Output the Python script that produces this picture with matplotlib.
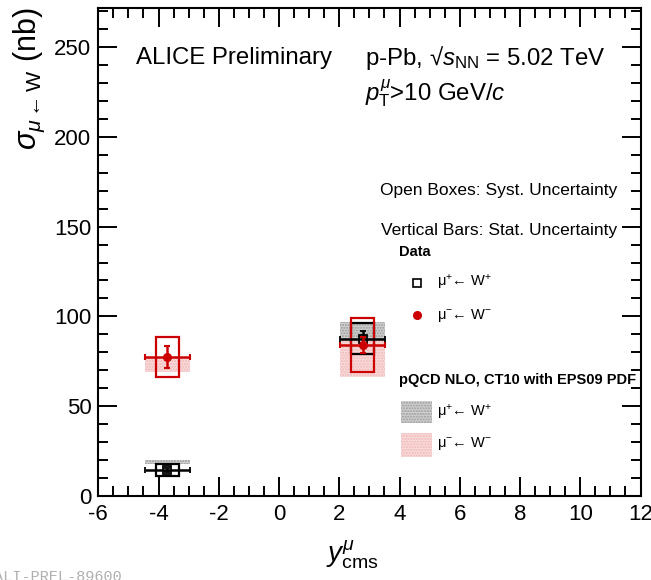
import numpy as np
import matplotlib
matplotlib.use("Agg")
import matplotlib.pyplot as plt
from matplotlib.patches import Rectangle
from matplotlib.ticker import MultipleLocator

plt.rcParams["font.family"] = ["Liberation Sans", "DejaVu Sans"]
plt.rcParams["mathtext.fontset"] = "custom"
plt.rcParams["mathtext.rm"] = "Liberation Sans"
plt.rcParams["mathtext.it"] = "Liberation Sans:italic"
plt.rcParams["mathtext.bf"] = "Liberation Sans:bold"
plt.rcParams["axes.unicode_minus"] = False

# rapidity bins (backward, forward)
y_cms = [-3.71, 2.78]
y_halfwidth = [0.75, 0.75]

# mu+ <- W+
wplus_val = [14.5, 87.6]
wplus_stat = [1.0, 4.5]
wplus_syst = [3.1, 8.5]
# mu- <- W-
wminus_val = [77.4, 84.1]
wminus_stat = [6.0, 4.3]
wminus_syst = [10.9, 15.0]

# pQCD NLO, CT10 + EPS09 bands (low, high)
th_wplus_lo = [17.8, 86.3]
th_wplus_hi = [20.0, 97.0]
th_wminus_lo = [69.2, 66.4]
th_wminus_hi = [77.6, 86.3]

RED = "#cc0000"
W, H = 651, 580

fig = plt.figure(figsize=(W / 100, H / 100), dpi=100)
ax = fig.add_axes([98.3 / W, 1 - 496 / H, (640.5 - 98.3) / W, (496 - 8) / H])


def fx(px):
    return px / W


def fy(py):
    return 1 - py / H


syst_hw = 0.38
for i in range(len(y_cms)):
    x0 = y_cms[i] - y_halfwidth[i]
    # theory bands
    ax.add_patch(Rectangle((x0, th_wminus_lo[i]), 2 * y_halfwidth[i], th_wminus_hi[i] - th_wminus_lo[i],
                           facecolor="#f9dada", edgecolor="#f0b8b8", hatch="......", lw=0, zorder=1))
    ax.add_patch(Rectangle((x0, th_wplus_lo[i]), 2 * y_halfwidth[i], th_wplus_hi[i] - th_wplus_lo[i],
                           facecolor="#d0d0d0", edgecolor="#9a9a9a", hatch="......", lw=0, zorder=2))
    # syst boxes
    ax.add_patch(Rectangle((y_cms[i] - syst_hw, wplus_val[i] - wplus_syst[i]), 2 * syst_hw, 2 * wplus_syst[i],
                           facecolor="none", edgecolor="black", lw=1.6, zorder=3))
    ax.add_patch(Rectangle((y_cms[i] - syst_hw, wminus_val[i] - wminus_syst[i]), 2 * syst_hw, 2 * wminus_syst[i],
                           facecolor="none", edgecolor=RED, lw=1.6, zorder=4))

ax.errorbar(y_cms, wplus_val, xerr=y_halfwidth, yerr=wplus_stat, fmt="s", ms=6, mfc="none", mec="black",
            mew=1.3, color="black", elinewidth=1.8, capsize=2.5, capthick=1.5, zorder=5)
ax.errorbar(y_cms, wminus_val, xerr=y_halfwidth, yerr=wminus_stat, fmt="o", ms=5.5, mfc=RED, mec=RED,
            color=RED, elinewidth=1.8, capsize=2.5, capthick=1.5, zorder=6)

ax.set_xlim(-6, 12)
ax.set_ylim(0, 271.7)
ax.xaxis.set_major_locator(MultipleLocator(2))
ax.xaxis.set_minor_locator(MultipleLocator(0.5))
ax.yaxis.set_major_locator(MultipleLocator(50))
ax.yaxis.set_minor_locator(MultipleLocator(10))
ax.tick_params(which="both", direction="in", top=True, right=True, width=1.4, labelsize=16)
ax.tick_params(which="major", length=14)
ax.tick_params(which="minor", length=7)
ax.tick_params(axis="x", pad=6)
ax.tick_params(axis="y", pad=5)
for s in ax.spines.values():
    s.set_linewidth(1.5)

fig.text(fx(29), fy(8), r"$\sigma_{\mu\leftarrow\mathrm{W}}$ (nb)", rotation=90, ha="center", va="top", fontsize=22)
fig.text(fx(352), fy(555), r"$y^{\mu}_{\mathrm{cms}}$", ha="center", va="center", fontsize=20)

fig.text(fx(136), fy(58), "ALICE Preliminary", ha="left", va="center", fontsize=17.3)
fig.text(fx(365), fy(58), r"p-Pb, √$s_{\mathrm{NN}}$ = 5.02 TeV", ha="left", va="center", fontsize=17.3)
fig.text(fx(365), fy(93), r"$p_{\mathrm{T}}^{\mu}$>10 GeV/$c$", ha="left", va="center", fontsize=17.3)
fig.text(fx(617), fy(191), "Open Boxes: Syst. Uncertainty", ha="right", va="center", fontsize=12.5)
fig.text(fx(617), fy(230), "Vertical Bars: Stat. Uncertainty", ha="right", va="center", fontsize=12.5)

fig.text(fx(399), fy(252), "Data", ha="left", va="center", fontsize=10.5, fontweight="bold")
fig.add_artist(plt.Line2D([fx(417)], [fy(283)], marker="s", ms=6, mfc="none", mec="black", mew=1.2))
fig.add_artist(plt.Line2D([fx(417)], [fy(315)], marker="o", ms=5.5, mfc=RED, mec=RED))
fig.text(fx(437), fy(283), r"$\mathrm{\mu^{+}}$← W$^{+}$", ha="left", va="center", fontsize=10.5)
fig.text(fx(437), fy(315), r"$\mathrm{\mu^{-}}$← W$^{-}$", ha="left", va="center", fontsize=10.5)

fig.text(fx(399), fy(380), "pQCD NLO, CT10 with EPS09 PDF", ha="left", va="center", fontsize=10.5, fontweight="bold")
fig.add_artist(Rectangle((fx(401), fy(423)), fx(31), 22 / H, transform=fig.transFigure,
                         facecolor="#d0d0d0", edgecolor="#9a9a9a", hatch="......", lw=0))
fig.add_artist(Rectangle((fx(401), fy(457)), fx(31), 24 / H, transform=fig.transFigure,
                         facecolor="#f9dada", edgecolor="#f0b8b8", hatch="......", lw=0))
fig.text(fx(437), fy(412), r"$\mathrm{\mu^{+}}$← W$^{+}$", ha="left", va="center", fontsize=10.5)
fig.text(fx(437), fy(443), r"$\mathrm{\mu^{-}}$← W$^{-}$", ha="left", va="center", fontsize=10.5)

fig.text(fx(-6), fy(577), "ALI-PREL-89600", ha="left", va="center", fontsize=11,
         family="Liberation Mono", color="#b0b0b0")

fig.savefig("out.png", dpi=100)
